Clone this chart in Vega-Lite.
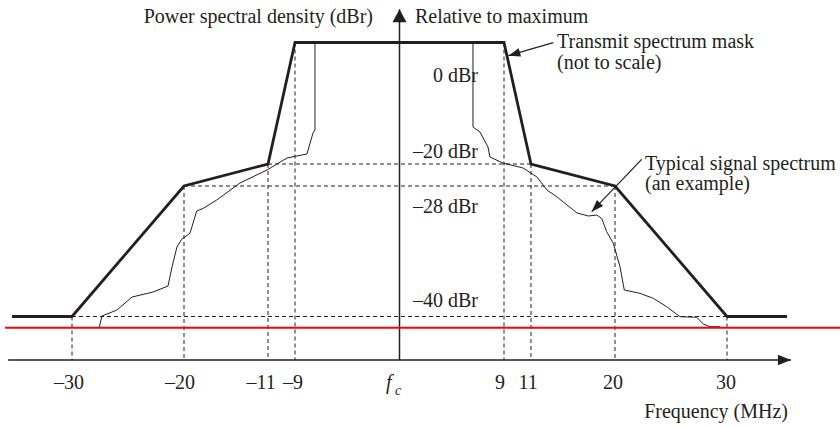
{
  "$schema": "https://vega.github.io/schema/vega-lite/v6.json",
  "width": 840,
  "height": 427,
  "autosize": {"type": "none"},
  "padding": 0,
  "background": "#ffffff",
  "config": {
    "view": {"stroke": null},
    "text": {"font": "Liberation Serif", "fontSize": 20, "color": "#231f20"}
  },
  "datasets": {
    "mask": [
      {"i": 0, "f": -35.36, "p": -40},
      {"i": 1, "f": -30, "p": -40},
      {"i": 2, "f": -20, "p": -28},
      {"i": 3, "f": -11, "p": -20},
      {"i": 4, "f": -9, "p": 0},
      {"i": 5, "f": 9, "p": 0},
      {"i": 6, "f": 11, "p": -20},
      {"i": 7, "f": 20, "p": -28},
      {"i": 8, "f": 30, "p": -40},
      {"i": 9, "f": 35.36, "p": -40}
    ],
    "signal": [
      {"i": 1, "f": -27.59, "p": -41.06},
      {"i": 2, "f": -27.32, "p": -39.95},
      {"i": 3, "f": -25.98, "p": -39.4},
      {"i": 4, "f": -24.64, "p": -38.21},
      {"i": 5, "f": -22.77, "p": -37.75},
      {"i": 6, "f": -21.43, "p": -37.2},
      {"i": 7, "f": -21.07, "p": -35.45},
      {"i": 8, "f": -20.63, "p": -33.61},
      {"i": 9, "f": -20.21, "p": -32.9},
      {"i": 10, "f": -19.36, "p": -32.35},
      {"i": 11, "f": -18.64, "p": -30.3},
      {"i": 12, "f": -17.93, "p": -30.05},
      {"i": 13, "f": -16.5, "p": -29.29},
      {"i": 14, "f": -14.0, "p": -26.91},
      {"i": 15, "f": -11.11, "p": -22.18},
      {"i": 16, "f": -9.59, "p": -19.01},
      {"i": 17, "f": -7.97, "p": -18.35},
      {"i": 18, "f": -7.45, "p": -14.9},
      {"i": 19, "f": -7.28, "p": -14.4},
      {"i": 20, "f": -7.28, "p": 0},
      {"i": 21, "f": 6.33, "p": 0},
      {"i": 22, "f": 6.33, "p": -13.91},
      {"i": 23, "f": 6.93, "p": -14.73},
      {"i": 24, "f": 7.62, "p": -17.2},
      {"i": 25, "f": 7.79, "p": -18.85},
      {"i": 26, "f": 8.91, "p": -19.84},
      {"i": 27, "f": 10.41, "p": -21.45},
      {"i": 28, "f": 11.64, "p": -24.73},
      {"i": 29, "f": 12.71, "p": -28.37},
      {"i": 30, "f": 13.79, "p": -29.01},
      {"i": 31, "f": 14.86, "p": -29.75},
      {"i": 32, "f": 15.93, "p": -30.48},
      {"i": 33, "f": 17.14, "p": -30.76},
      {"i": 34, "f": 18.04, "p": -30.67},
      {"i": 35, "f": 18.57, "p": -30.97},
      {"i": 36, "f": 19.11, "p": -32.2},
      {"i": 37, "f": 19.82, "p": -33.27},
      {"i": 38, "f": 20.45, "p": -35.43},
      {"i": 39, "f": 20.83, "p": -37.56},
      {"i": 40, "f": 22.23, "p": -37.87},
      {"i": 41, "f": 23.42, "p": -38.33},
      {"i": 42, "f": 24.62, "p": -39.1},
      {"i": 43, "f": 25.8, "p": -40.02},
      {"i": 44, "f": 27.29, "p": -40.07},
      {"i": 45, "f": 27.88, "p": -40.69},
      {"i": 46, "f": 28.48, "p": -40.94},
      {"i": 47, "f": 29.38, "p": -40.94}
    ],
    "guides": [
      {"f": -30, "p": -40, "f2": -30, "p2": -44},
      {"f": -20, "p": -28, "f2": -20, "p2": -44},
      {"f": -11, "p": -20, "f2": -11, "p2": -44},
      {"f": -9, "p": 0, "f2": -9, "p2": -44},
      {"f": 9, "p": 0, "f2": 9, "p2": -44},
      {"f": 11, "p": -20, "f2": 11, "p2": -44},
      {"f": 20, "p": -28, "f2": 20, "p2": -44},
      {"f": 30, "p": -40, "f2": 30, "p2": -44},
      {"f": -11, "p": -20, "f2": 11, "p2": -20},
      {"f": -20, "p": -28, "f2": 20, "p2": -28},
      {"f": -30, "p": -40, "f2": 30, "p2": -40}
    ],
    "axes": [
      {"f": -35.71, "p": -44, "f2": 35.71, "p2": -44},
      {"f": 0, "p": -44, "f2": 0, "p2": 5.47}
    ],
    "floor": [
      {"f": -35.98, "p": -41.03, "f2": 40.09, "p2": -41.03}
    ],
    "pointers": [
      {"name": "mask", "f": 13.39, "p": -0.03, "f2": 9.32, "p2": -2.17},
      {"name": "signal", "f": 22.38, "p": -19.23, "f2": 17.5, "p2": -30.36}
    ],
    "leftText": [
      {"label": "Relative to maximum", "f": 1.33, "p": 3.25},
      {"label": "Transmit spectrum mask\n(not to scale)", "f": 13.79, "p": -0.95},
      {"label": "Typical signal spectrum\n(an example)", "f": 22.68, "p": -22.18}
    ],
    "rightText": [
      {"label": "Power spectral density (dBr)", "f": -2.28, "p": 3.25},
      {"label": "0 dBr", "f": 6.76, "p": -6.42},
      {"label": "–20 dBr", "f": 6.76, "p": -19.01},
      {"label": "–28 dBr", "f": 6.76, "p": -30.48},
      {"label": "–40 dBr", "f": 6.76, "p": -39.1},
      {"label": "Frequency (MHz)", "f": 35.45, "p": -49.36}
    ],
    "ticks": [
      {"label": "–30", "f": -30.27, "p": -46.67},
      {"label": "–20", "f": -20.36, "p": -46.67},
      {"label": "–11", "f": -11.75, "p": -46.67},
      {"label": "–9", "f": -9.15, "p": -46.67},
      {"label": "9", "f": 8.66, "p": -46.67},
      {"label": "11", "f": 10.78, "p": -46.67},
      {"label": "20", "f": 19.79, "p": -46.67},
      {"label": "30", "f": 29.91, "p": -46.67}
    ]
  },
  "encoding": {
    "x": {
      "field": "f",
      "type": "quantitative",
      "axis": null,
      "scale": {
        "type": "linear",
        "nice": false,
        "zero": false,
        "domain": [-36.43, -30, -20, -11, -9, 0, 9, 11, 20, 30, 40.09],
        "range": [0, 72, 184, 268, 295, 399.5, 504, 531, 615, 727, 840]
      }
    },
    "y": {
      "field": "p",
      "type": "quantitative",
      "axis": null,
      "scale": {
        "type": "linear",
        "nice": false,
        "zero": false,
        "domain": [-50.16, -40, -28, -20, 0, 7.0],
        "range": [427, 316.5, 186, 164, 42.5, 0]
      }
    }
  },
  "layer": [
    {
      "data": {"name": "guides"},
      "mark": {"type": "rule", "color": "#231f20", "strokeWidth": 1, "strokeDash": [4, 3]},
      "encoding": {"x2": {"field": "f2"}, "y2": {"field": "p2"}}
    },
    {
      "data": {"name": "axes"},
      "mark": {"type": "rule", "color": "#231f20", "strokeWidth": 1.5},
      "encoding": {"x2": {"field": "f2"}, "y2": {"field": "p2"}}
    },
    {
      "data": {"name": "signal"},
      "mark": {"type": "line", "color": "#231f20", "strokeWidth": 1},
      "encoding": {"order": {"field": "i", "type": "quantitative"}}
    },
    {
      "data": {"name": "mask"},
      "mark": {"type": "line", "color": "#231f20", "strokeWidth": 2.8, "strokeJoin": "miter"},
      "encoding": {"order": {"field": "i", "type": "quantitative"}}
    },
    {
      "data": {"name": "floor"},
      "mark": {"type": "rule", "color": "#ff0000", "strokeWidth": 2},
      "encoding": {"x2": {"field": "f2"}, "y2": {"field": "p2"}}
    },
    {
      "data": {"name": "pointers"},
      "mark": {"type": "rule", "color": "#231f20", "strokeWidth": 1.2},
      "encoding": {"x2": {"field": "f2"}, "y2": {"field": "p2"}}
    },
    {
      "data": {"name": "pointers"},
      "transform": [{"filter": "datum.name === 'mask'"}],
      "mark": {"type": "point", "shape": "M0,0L-1,-0.36L-1,0.36Z", "size": 576, "filled": true, "opacity": 1, "color": "#231f20", "angle": 164},
      "encoding": {"x": {"field": "f2"}, "y": {"field": "p2"}}
    },
    {
      "data": {"name": "pointers"},
      "transform": [{"filter": "datum.name === 'signal'"}],
      "mark": {"type": "point", "shape": "M0,0L-1,-0.36L-1,0.36Z", "size": 576, "filled": true, "opacity": 1, "color": "#231f20", "angle": 134},
      "encoding": {"x": {"field": "f2"}, "y": {"field": "p2"}}
    },
    {
      "data": {"name": "axes"},
      "transform": [{"filter": "datum.f2 > 1"}],
      "mark": {"type": "point", "shape": "M0,0L-1,-0.4L-1,0.4Z", "size": 676, "filled": true, "opacity": 1, "color": "#231f20"},
      "encoding": {"x": {"field": "f2"}, "y": {"field": "p2"}}
    },
    {
      "data": {"name": "axes"},
      "transform": [{"filter": "datum.f2 === 0"}],
      "mark": {"type": "point", "shape": "M0,0L0.54,1L-0.54,1Z", "size": 676, "filled": true, "opacity": 1, "color": "#231f20"},
      "encoding": {"x": {"field": "f2"}, "y": {"field": "p2"}}
    },
    {
      "data": {"name": "leftText"},
      "mark": {"type": "text", "font": "Liberation Serif", "align": "left", "baseline": "alphabetic", "lineBreak": "\n", "lineHeight": 20.5},
      "encoding": {"text": {"field": "label"}}
    },
    {
      "data": {"name": "rightText"},
      "mark": {"type": "text", "font": "Liberation Serif", "align": "right", "baseline": "alphabetic"},
      "encoding": {"text": {"field": "label"}}
    },
    {
      "data": {"name": "ticks"},
      "mark": {"type": "text", "font": "Liberation Serif", "align": "center", "baseline": "alphabetic"},
      "encoding": {"text": {"field": "label"}}
    },
    {
      "data": {"values": [{"label": "f", "f": -1.16, "p": -46.67}]},
      "mark": {"type": "text", "font": "Liberation Serif", "align": "left", "baseline": "alphabetic", "fontStyle": "italic"},
      "encoding": {"text": {"field": "label"}}
    },
    {
      "data": {"values": [{"label": "c", "f": -0.39, "p": -47.22}]},
      "mark": {"type": "text", "font": "Liberation Serif", "align": "left", "baseline": "alphabetic", "fontStyle": "italic", "fontSize": 14},
      "encoding": {"text": {"field": "label"}}
    }
  ]
}
